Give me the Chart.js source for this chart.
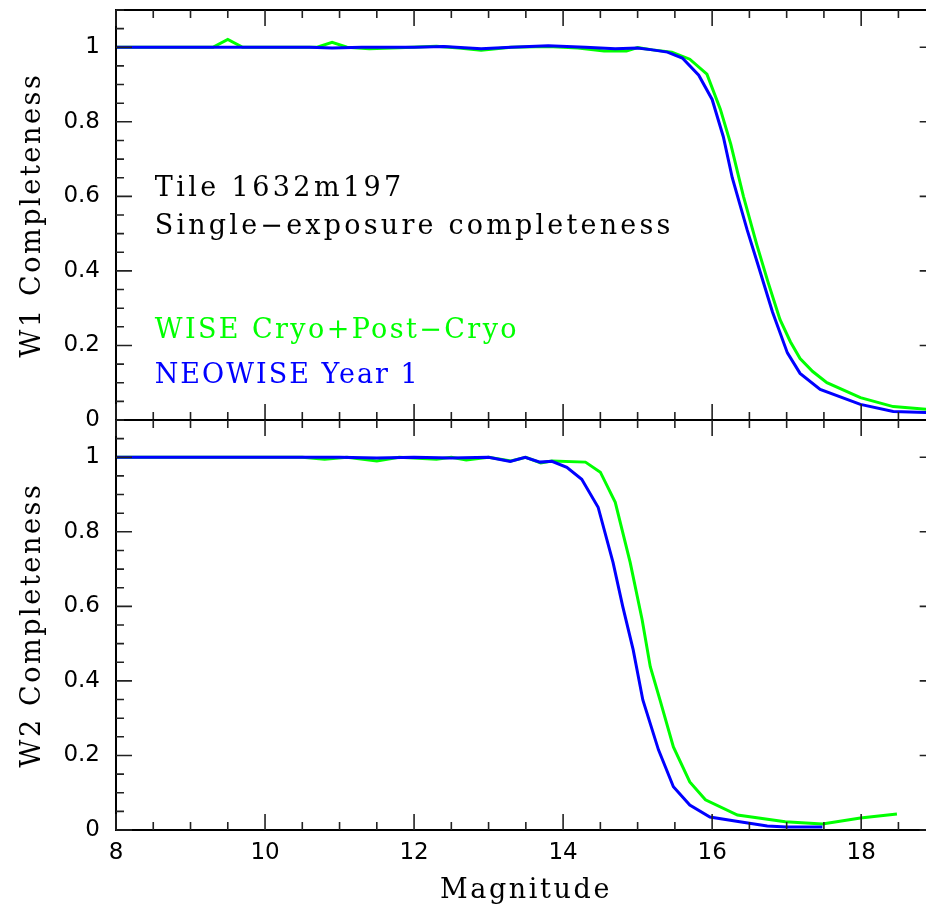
<!DOCTYPE html>
<html>
<head>
<meta charset="utf-8">
<script src="https://cdn.jsdelivr.net/npm/chart.js@4.4.0/dist/chart.umd.min.js"></script>
<style>
  html, body { margin: 0; padding: 0; background: #fff; }
</style>
</head>
<body>
<canvas id="chart" width="926" height="905"></canvas>
<script>
// W1 panel (top)
var w1WiseMag = [8.0, 9.3, 9.5, 9.7, 10.7, 10.9, 11.1, 11.4, 11.8, 12.3, 12.6, 12.9, 13.3, 13.8, 14.2, 14.55, 14.85, 15.0, 15.2, 15.46, 15.7, 15.93, 16.11, 16.25, 16.42, 16.6, 16.75, 16.91, 17.05, 17.18, 17.35, 17.54, 17.99, 18.43, 19.0];
var w1WiseVal = [1.0, 1.0, 1.021, 1.0, 1.0, 1.013, 1.0, 0.996, 0.999, 1.003, 0.998, 0.992, 1.0, 1.002, 0.998, 0.99, 0.99, 0.999, 0.993, 0.987, 0.968, 0.928, 0.834, 0.74, 0.60, 0.47, 0.37, 0.27, 0.21, 0.165, 0.13, 0.10, 0.06, 0.036, 0.027];
var w1NeoMag = [8.0, 10.6, 10.9, 11.3, 12.0, 12.4, 12.9, 13.3, 13.8, 14.3, 14.7, 15.0, 15.2, 15.4, 15.6, 15.82, 16.0, 16.15, 16.27, 16.47, 16.61, 16.81, 17.01, 17.18, 17.45, 17.99, 18.43, 19.0];
var w1NeoVal = [1.0, 1.0, 0.998, 1.0, 1.0, 1.002, 0.996, 1.0, 1.004, 1.0, 0.996, 0.998, 0.993, 0.987, 0.971, 0.925, 0.86, 0.76, 0.65, 0.51, 0.42, 0.29, 0.18, 0.125, 0.082, 0.042, 0.023, 0.019];

// W2 panel (bottom)
var w2WiseMag = [8.0, 10.5, 10.8, 11.1, 11.5, 11.8, 12.3, 12.5, 12.7, 13.0, 13.3, 13.5, 13.7, 13.85, 14.3, 14.5, 14.7, 14.9, 15.06, 15.17, 15.3, 15.48, 15.7, 15.91, 16.34, 16.98, 17.48, 17.99, 18.48];
var w2WiseVal = [1.0, 1.0, 0.995, 1.0, 0.99, 1.0, 0.995, 1.0, 0.993, 1.0, 0.99, 1.0, 0.985, 0.99, 0.987, 0.96, 0.879, 0.718, 0.565, 0.438, 0.349, 0.223, 0.129, 0.081, 0.04, 0.022, 0.016, 0.032, 0.043];
var w2NeoMag = [8.0, 11.0, 11.5, 12.0, 12.5, 13.0, 13.29, 13.49, 13.69, 13.85, 14.05, 14.25, 14.47, 14.67, 14.8, 14.94, 15.07, 15.28, 15.48, 15.7, 15.97, 16.37, 16.74, 17.0, 17.48];
var w2NeoVal = [1.0, 1.0, 0.998, 1.0, 0.998, 1.0, 0.989, 1.0, 0.987, 0.989, 0.973, 0.941, 0.866, 0.718, 0.6, 0.484, 0.349, 0.215, 0.116, 0.067, 0.035, 0.022, 0.011, 0.008, 0.008];

var xTickVals = [8, 10, 12, 14, 16, 18];
var yTickVals = [0, 0.2, 0.4, 0.6, 0.8, 1];

var seriesNames = ['WISE Cryo+Post\u2212Cryo', 'NEOWISE Year 1'];
var green = '#00ff00';
var blue = '#0000ff';

function pairs(mag, val) {
  return mag.map(function(m, i) { return { x: m, y: val[i] }; });
}

function yTickLabel(v) {
  if (v === 0) return '0';
  if (v === 1) return '1';
  return v.toFixed(1);
}

var serif = 'DejaVu Serif';
var sans = 'DejaVu Sans';

function noPad(scale) {
  scale.paddingTop = 0;
  scale.paddingBottom = 0;
  scale.paddingLeft = 0;
  scale.paddingRight = 0;
}

function panelAxis(weight) {
  return {
    type: 'linear',
    position: 'left',
    stack: 'panels',
    stackWeight: 1,
    weight: weight,
    min: 0,
    max: 1.1,
    grid: { display: false, drawTicks: false },
    border: { display: false },
    afterBuildTicks: function(scale) {
      scale.ticks = yTickVals.map(function(v) { return { value: v }; });
    },
    afterFit: function(scale) { scale.width = 116; noPad(scale); },
    ticks: {
      padding: 16,
      color: '#000',
      font: { family: sans, size: 23 },
      callback: function(v) { return yTickLabel(v); }
    }
  };
}

// pgplot style frame with inward ticks; right edge of the frame sits at mag 19, just off the canvas
var framePlugin = {
  id: 'frame',
  afterDatasetsDraw: function(chart) {
    var ctx = chart.ctx;
    var xs = chart.scales.x;
    var left = chart.chartArea.left, right = xs.getPixelForValue(19);
    ctx.save();
    ['y1', 'y2'].forEach(function(id) {
      var ys = chart.scales[id];
      var top = ys.top, bottom = ys.bottom;
      ctx.strokeStyle = '#000';
      ctx.lineWidth = 2;
      ctx.beginPath();
      ctx.rect(left, top, right - left, bottom - top);
      ctx.stroke();
      ctx.strokeStyle = '#222';
      ctx.lineWidth = 1.6;
      ctx.beginPath();
      for (var k = 0; k <= 22; k++) {
        var m = 8 + k * 0.5;
        var px = xs.getPixelForValue(m);
        var len = (k % 4 === 0) ? 16 : 8;
        ctx.moveTo(px, top); ctx.lineTo(px, top + len);
        ctx.moveTo(px, bottom); ctx.lineTo(px, bottom - len);
      }
      for (var j = 0; j <= 22; j++) {
        var v = j * 0.05;
        var py = ys.getPixelForValue(v);
        var l2 = (j % 4 === 0) ? 16 : 8;
        ctx.moveTo(left, py); ctx.lineTo(left + l2, py);
        ctx.moveTo(right, py); ctx.lineTo(right - l2, py);
      }
      ctx.stroke();
    });
    ctx.restore();
  }
};

var textPlugin = {
  id: 'texts',
  afterDraw: function(chart) {
    var ctx = chart.ctx;
    var xs = chart.scales.x, y1 = chart.scales.y1, y2 = chart.scales.y2;
    ctx.save();
    ctx.font = '27px "' + serif + '"';
    ctx.letterSpacing = '2.6px';
    ctx.textBaseline = 'alphabetic';
    ctx.textAlign = 'left';
    var notes = [
      ['Tile 1632m197', 0.6, '#000', '3.4px'],
      ['Single\u2212exposure completeness', 0.5, '#000', '3.2px'],
      [seriesNames[0], 0.22, green, '2.4px'],
      [seriesNames[1], 0.1, blue, '2.0px']
    ];
    notes.forEach(function(n) {
      ctx.fillStyle = n[2];
      ctx.letterSpacing = n[3];
      ctx.fillText(n[0], xs.getPixelForValue(8.52), y1.getPixelForValue(n[1]));
    });
    ctx.letterSpacing = '2.6px';
    ctx.fillStyle = '#000';
    ctx.textAlign = 'center';
    ctx.fillText('Magnitude', 526, 898);
    [['W1 Completeness', y1], ['W2 Completeness', y2]].forEach(function(t) {
      ctx.save();
      ctx.translate(40, (t[1].top + t[1].bottom) / 2);
      ctx.rotate(-Math.PI / 2);
      ctx.fillText(t[0], 0, 0);
      ctx.restore();
    });
    ctx.restore();
  }
};

var lineStyle = { borderWidth: 3, pointRadius: 0, tension: 0, fill: false };

new Chart(document.getElementById('chart'), {
  type: 'line',
  data: {
    datasets: [
      Object.assign({ label: seriesNames[1] + ' W1', data: pairs(w1NeoMag, w1NeoVal), borderColor: blue, yAxisID: 'y1', order: 1 }, lineStyle),
      Object.assign({ label: seriesNames[0] + ' W1', data: pairs(w1WiseMag, w1WiseVal), borderColor: green, yAxisID: 'y1', order: 2 }, lineStyle),
      Object.assign({ label: seriesNames[1] + ' W2', data: pairs(w2NeoMag, w2NeoVal), borderColor: blue, yAxisID: 'y2', order: 1 }, lineStyle),
      Object.assign({ label: seriesNames[0] + ' W2', data: pairs(w2WiseMag, w2WiseVal), borderColor: green, yAxisID: 'y2', order: 2 }, lineStyle)
    ]
  },
  options: {
    responsive: false,
    animation: false,
    devicePixelRatio: 1,
    layout: { padding: { left: 0, top: 10, right: 0, bottom: 0 } },
    plugins: { legend: { display: false }, tooltip: { enabled: false } },
    scales: {
      x: {
        type: 'linear',
        position: 'bottom',
        min: 8,
        max: 18.87,
        grid: { display: false, drawTicks: false },
        border: { display: false },
        afterBuildTicks: function(scale) {
          scale.ticks = xTickVals.map(function(v) { return { value: v }; });
        },
        afterFit: function(scale) { scale.height = 75; noPad(scale); },
        ticks: {
          padding: 9,
          color: '#000',
          maxRotation: 0,
          font: { family: sans, size: 23 },
          callback: function(v) { return String(v); }
        }
      },
      y1: panelAxis(2),
      y2: panelAxis(1)
    }
  },
  plugins: [framePlugin, textPlugin]
});
</script>
</body>
</html>
